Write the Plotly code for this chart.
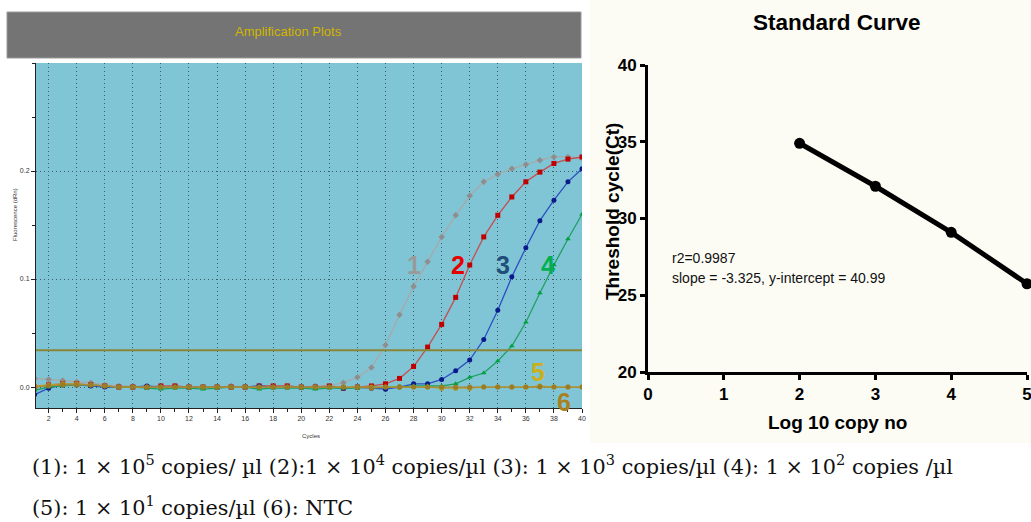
import plotly.graph_objects as go

W, H = 1031, 522


def px(x):
    return x / W


def py(y):
    return 1 - y / H

# ---------------- data ----------------
cycles = list(range(1, 41))

curve1 = [0.008, 0.007, 0.006, 0.005, 0.004, 0.002, 0.001, 0.001, 0.0, 0.0,
          0.001, 0.0, 0.0, 0.0, 0.001, 0.0, 0.0, 0.0, 0.001, 0.0,
          0.001, 0.001, 0.004, 0.009, 0.018, 0.039, 0.067, 0.093, 0.116, 0.139,
          0.159, 0.177, 0.190, 0.197, 0.202, 0.206, 0.210, 0.213, 0.213, 0.212]
curve2 = [0.0, 0.002, 0.003, 0.003, 0.002, 0.001, 0.0, 0.0, 0.0, 0.001,
          0.001, 0.0, 0.0, 0.0, 0.0, 0.0, 0.001, 0.001, 0.001, 0.0,
          0.0, 0.001, -0.001, 0.0, 0.001, 0.003, 0.008, 0.019, 0.037, 0.058,
          0.083, 0.113, 0.139, 0.159, 0.176, 0.190, 0.199, 0.207, 0.211, 0.213]
curve3 = [-0.007, -0.001, 0.002, 0.002, 0.001, 0.0, 0.0, 0.0, 0.001, 0.0,
          0.0, 0.0, 0.0, 0.0, 0.0, 0.0, 0.001, 0.0, 0.0, 0.0,
          0.0, 0.0, -0.001, 0.0, -0.001, -0.002, 0.0, 0.003, 0.003, 0.007,
          0.015, 0.025, 0.044, 0.071, 0.102, 0.129, 0.154, 0.173, 0.190, 0.202]
curve4 = [-0.003, 0.0, 0.001, 0.002, 0.002, 0.001, 0.0, 0.0, -0.001, -0.002,
          -0.001, -0.001, -0.002, -0.001, 0.0, 0.0, -0.002, -0.001, -0.001, -0.001,
          -0.002, -0.001, -0.001, -0.001, 0.0, 0.0, 0.0, 0.001, 0.001, 0.001,
          0.003, 0.009, 0.013, 0.024, 0.038, 0.060, 0.087, 0.113, 0.137, 0.160]
curve5 = [0.001, 0.002, 0.003, 0.003, 0.002, 0.001, 0.0, 0.0, 0.0, 0.0,
          0.0, 0.0, 0.0, 0.0, 0.0, 0.0, 0.0, 0.0, 0.0, 0.0,
          0.0, 0.0, 0.0, 0.0, 0.0, 0.0, 0.0, 0.0, 0.0, -0.001,
          -0.001, -0.001, 0.0, 0.0, 0.0, 0.0, 0.001, 0.0, 0.0, 0.0]
curve6 = [0.0, 0.001, 0.002, 0.002, 0.002, 0.001, 0.0, 0.0, 0.0, 0.0,
          0.0, 0.0, 0.0, 0.0, 0.0, 0.0, 0.0, 0.0, 0.0, 0.0,
          0.0, 0.0, 0.0, 0.0, -0.001, 0.0, 0.0, 0.0, 0.0, 0.0,
          0.0, 0.0, 0.0, 0.0, 0.0, 0.0, 0.0, 0.0, 0.0, 0.0]
threshold = 0.034

curve_names = ["1", "2", "3", "4", "5", "6"]
curve_values = [curve1, curve2, curve3, curve4, curve5, curve6]
line_colors = ["#A8A8A8", "#C25050", "#2D4FC0", "#1FA060", "#B8A030", "#A88A35"]
marker_colors = ["#8E8E8E", "#C00000", "#0A1A8A", "#00A040", "#A89020", "#9A7D25"]
marker_symbols = ["diamond", "square", "circle", "triangle-up", "circle", "circle"]

# curve number labels (cycle, fluorescence) and colors
label_pos = [(28.0, 0.113), (31.2, 0.113), (34.4, 0.113), (37.6, 0.113), (36.9, 0.014), (38.7, -0.014)]
label_colors = ["#9A9A9A", "#E60000", "#1F4E79", "#00B050", "#C8B020", "#A8801E"]

log_copies = [2, 3, 4, 5]
ct_values = [34.9, 32.1, 29.1, 25.75]

fig = go.Figure()

for name, vals, lc, mc, ms in zip(curve_names, curve_values, line_colors, marker_colors, marker_symbols):
    fig.add_trace(go.Scatter(
        x=cycles, y=vals, mode="lines+markers", name=name,
        line=dict(color=lc, width=1.3),
        marker=dict(color=mc, symbol=ms, size=5),
        xaxis="x", yaxis="y", showlegend=False))

fig.add_trace(go.Scatter(
    x=[1, 40], y=[threshold, threshold], mode="lines",
    line=dict(color="#8A8638", width=2), xaxis="x", yaxis="y", showlegend=False))

fig.add_trace(go.Scatter(
    x=log_copies, y=ct_values, mode="lines+markers",
    line=dict(color="black", width=5),
    marker=dict(color="black", size=11),
    xaxis="x2", yaxis="y2", showlegend=False, cliponaxis=False))

small_font = dict(family="Liberation Sans Narrow, Liberation Sans, Arial", size=7, color="#333333")
bold_tick = dict(family="Liberation Sans Narrow, Liberation Sans, Arial", size=17, color="black", weight="bold")
grid_col = "#3E5C66"

fig.update_layout(
    template="none",
    width=W, height=H, autosize=False,
    margin=dict(l=0, r=0, t=0, b=0, pad=0),
    paper_bgcolor="white", plot_bgcolor="rgba(0,0,0,0)",
    xaxis=dict(domain=[px(36), px(582)], range=[1.1, 40], anchor="y", automargin=False,
               tick0=0, dtick=2, showgrid=True, gridcolor=grid_col, griddash="1px,3px", gridwidth=1,
               ticks="outside", ticklen=4, tickcolor="#222", showline=True, linecolor="#222", linewidth=1,
               minor=dict(dtick=1, tick0=0, ticks="outside", ticklen=3, tickcolor="#222", showgrid=False),
               tickfont=small_font, zeroline=False),
    yaxis=dict(domain=[py(408), py(63)], range=[-0.0194, 0.30], anchor="x", automargin=False,
               tickvals=[0.0, 0.1, 0.2], ticktext=["0.0", "0.1", "0.2"],
               showgrid=True, gridcolor=grid_col, griddash="1px,3px",
               ticks="outside", ticklen=4, tickcolor="#222", showline=True, linecolor="#222", linewidth=1,
               minor=dict(dtick=0.05, tick0=0, ticks="outside", ticklen=3, tickcolor="#222", showgrid=False),
               tickfont=small_font, zeroline=False),
    xaxis2=dict(domain=[px(648), px(1027)], range=[0, 5], anchor="y2", automargin=False,
                tickvals=[0, 1, 2, 3, 4, 5], showgrid=False, zeroline=False,
                showline=True, linecolor="black", linewidth=3,
                ticks="outside", ticklen=5, tickwidth=3, tickcolor="black",
                tickfont=bold_tick, ticklabeloverflow="allow"),
    yaxis2=dict(domain=[py(372), py(65)], range=[20, 40], anchor="x2", automargin=False,
                tickvals=[20, 25, 30, 35, 40], showgrid=False, zeroline=False,
                showline=True, linecolor="black", linewidth=3,
                ticks="outside", ticklen=5, tickwidth=3, tickcolor="black",
                tickfont=bold_tick),
)

shapes = [
    # right panel cream background
    dict(type="rect", xref="paper", yref="paper", x0=px(590), x1=1, y0=py(443), y1=1,
         fillcolor="#FCFCF5", line=dict(width=0), layer="below"),
    # amplification plot area
    dict(type="rect", xref="x domain", yref="y domain", x0=0, x1=1, y0=0, y1=1,
         fillcolor="#80C5D6", line=dict(width=0), layer="below"),
    # header bar
    dict(type="rect", xref="paper", yref="paper", x0=px(7), x1=px(581), y0=py(58), y1=py(12),
         fillcolor="#747474", line=dict(color="#9A9A9A", width=1), layer="below"),
]
fig.update_layout(shapes=shapes)

ann = []


def note(text, x, y, font, xanchor="center", angle=0, ref="paper"):
    if ref == "paper":
        xx, yy, xr, yr = px(x), py(y), "paper", "paper"
    else:
        xx, yy, xr, yr = x, y, "x", "y"
    ann.append(dict(text=text, x=xx, y=yy, xref=xr, yref=yr, xanchor=xanchor, yanchor="middle",
                    showarrow=False, textangle=angle, font=font))


note("Amplification Plots", 288, 31, dict(family="Liberation Sans Narrow, Liberation Sans", size=13, color="#D0B600"))
note("Fluorescence (dRn)", 15, 215, dict(family="Liberation Sans", size=6, color="#333"), angle=-90)
note("Cycles", 311, 436, dict(family="Liberation Sans Narrow, Liberation Sans", size=6, color="#333"))
for name, (cx, cy), col in zip(curve_names, label_pos, label_colors):
    note("<b>%s</b>" % name, cx, cy, dict(family="Liberation Sans", size=25, color=col), ref="data")

note("<b>Standard Curve</b>", 837, 22, dict(family="Liberation Sans Narrow, Liberation Sans", size=22.5, color="black"))
note("<b>Threshold cycle(Ct)</b>", 612, 212, dict(family="Liberation Sans", size=19, color="black"), angle=-90)
note("<b>Log 10 copy no</b>", 837, 422, dict(family="Liberation Sans Narrow, Liberation Sans", size=19, color="black"))
note("r2=0.9987", 670, 258, dict(family="Liberation Sans Narrow, Liberation Sans", size=14, color="#111"), xanchor="left")
note("slope = -3.325, y-intercept = 40.99", 670, 278,
     dict(family="Liberation Sans Narrow, Liberation Sans", size=14, color="#111"), xanchor="left")

cap_font = dict(family="DejaVu Serif, Liberation Serif", size=20.8, color="#111")
note("(1): 1 × 10<sup>5</sup> copies/ µl (2):1 × 10<sup>4</sup> copies/µl (3): 1 × 10<sup>3</sup> copies/µl (4): 1 × 10<sup>2</sup> copies /µl",
     30, 465, cap_font, xanchor="left")
note("(5): 1 × 10<sup>1</sup> copies/µl (6): NTC", 30, 506, cap_font, xanchor="left")

fig.update_layout(annotations=ann)

fig.write_html("out.html",
               config={"displayModeBar": False},
               post_script="document.body.style.margin='0';document.body.style.overflow='hidden';")
